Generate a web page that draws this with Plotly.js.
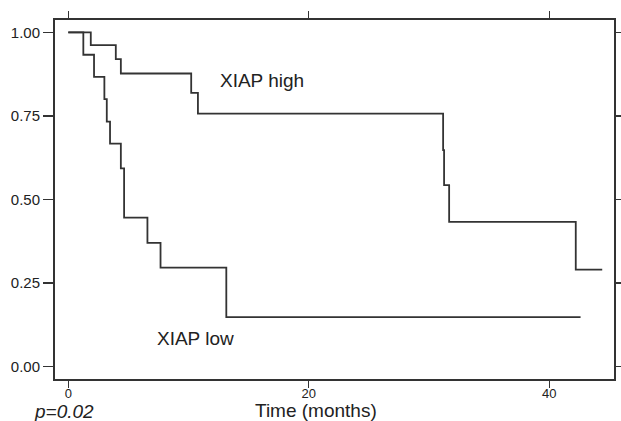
<!DOCTYPE html>
<html>
<head>
<meta charset="utf-8">
<script src="https://cdn.plot.ly/plotly-3.0.1.min.js"></script>
<style>
  html, body { margin: 0; padding: 0; background: #fff; }
  #chart { width: 621px; height: 421px; }
</style>
</head>
<body>
<div id="chart"></div>
<script>
// XIAP high group: event times (months) and survival probability
var highTime = [0, 1.87, 3.95, 4.37, 10.22, 10.78, 31.17, 31.25, 31.67, 42.2, 44.4];
var highSurv = [1.0, 0.962, 0.92, 0.877, 0.819, 0.757, 0.648, 0.543, 0.433, 0.29, 0.29];

// XIAP low group
var lowTime = [0, 1.25, 2.14, 3.0, 3.2, 3.47, 4.37, 4.64, 6.58, 7.67, 13.14, 42.6];
var lowSurv = [1.0, 0.933, 0.867, 0.8, 0.733, 0.667, 0.593, 0.446, 0.37, 0.296, 0.148, 0.148];

var xTicks = [0, 20, 40];
var xTickText = ['0', '20', '40'];
var yTicks = [0, 0.25, 0.5, 0.75, 1.0];
var yTickText = ['0.00', '0.25', '0.50', '0.75', '1.00'];

var lineColor = '#333333';
var fontFam = '"Liberation Sans", Arial, Helvetica, sans-serif';

var traces = [
  { x: highTime, y: highSurv, mode: 'lines', line: { shape: 'hv', color: lineColor, width: 1.8 }, name: 'XIAP high', hoverinfo: 'x+y' },
  { x: lowTime, y: lowSurv, mode: 'lines', line: { shape: 'hv', color: lineColor, width: 1.8 }, name: 'XIAP low', hoverinfo: 'x+y' }
];

var layout = {
  width: 621, height: 421,
  margin: { l: 55, r: 7, t: 20, b: 42 },
  paper_bgcolor: '#ffffff', plot_bgcolor: '#ffffff',
  showlegend: false,
  font: { family: fontFam, color: '#222222' },
  xaxis: {
    range: [-1.106, 45.38],
    tickvals: xTicks, ticktext: xTickText,
    ticks: 'outside', ticklen: 7, tickwidth: 1.3, tickcolor: '#333',
    ticklabelstandoff: -6,
    showline: true, linecolor: '#333', linewidth: 2, mirror: 'ticks',
    showgrid: false, zeroline: false,
    tickfont: { size: 13, family: fontFam, color: '#222' }
  },
  yaxis: {
    range: [-0.037, 1.037],
    tickvals: yTicks, ticktext: yTickText,
    ticks: 'outside', ticklen: 10, tickwidth: 1.3, tickcolor: '#333',
    showline: true, linecolor: '#333', linewidth: 2, mirror: 'ticks',
    showgrid: false, zeroline: false,
    tickfont: { size: 15, family: fontFam, color: '#222' }
  },
  annotations: [
    { text: 'XIAP high', x: 12.45, y: 0.857, xref: 'x', yref: 'y', xanchor: 'left', yanchor: 'middle', showarrow: false, font: { size: 19, family: fontFam, color: '#222' } },
    { text: 'XIAP low', x: 7.21, y: 0.084, xref: 'x', yref: 'y', xanchor: 'left', yanchor: 'middle', showarrow: false, font: { size: 19, family: fontFam, color: '#222' } },
    { text: '<i>p=0.02</i>', x: -0.039, y: -0.09, xref: 'paper', yref: 'paper', xanchor: 'left', yanchor: 'middle', showarrow: false, borderpad: 0, font: { size: 19, family: fontFam, color: '#222' } },
    { text: 'Time (months)', x: 0.467, y: -0.089, xref: 'paper', yref: 'paper', xanchor: 'center', yanchor: 'middle', showarrow: false, borderpad: 0, font: { size: 19, family: fontFam, color: '#222' } }
  ]
};

Plotly.newPlot('chart', traces, layout, { displayModeBar: false, staticPlot: true });
</script>
</body>
</html>
